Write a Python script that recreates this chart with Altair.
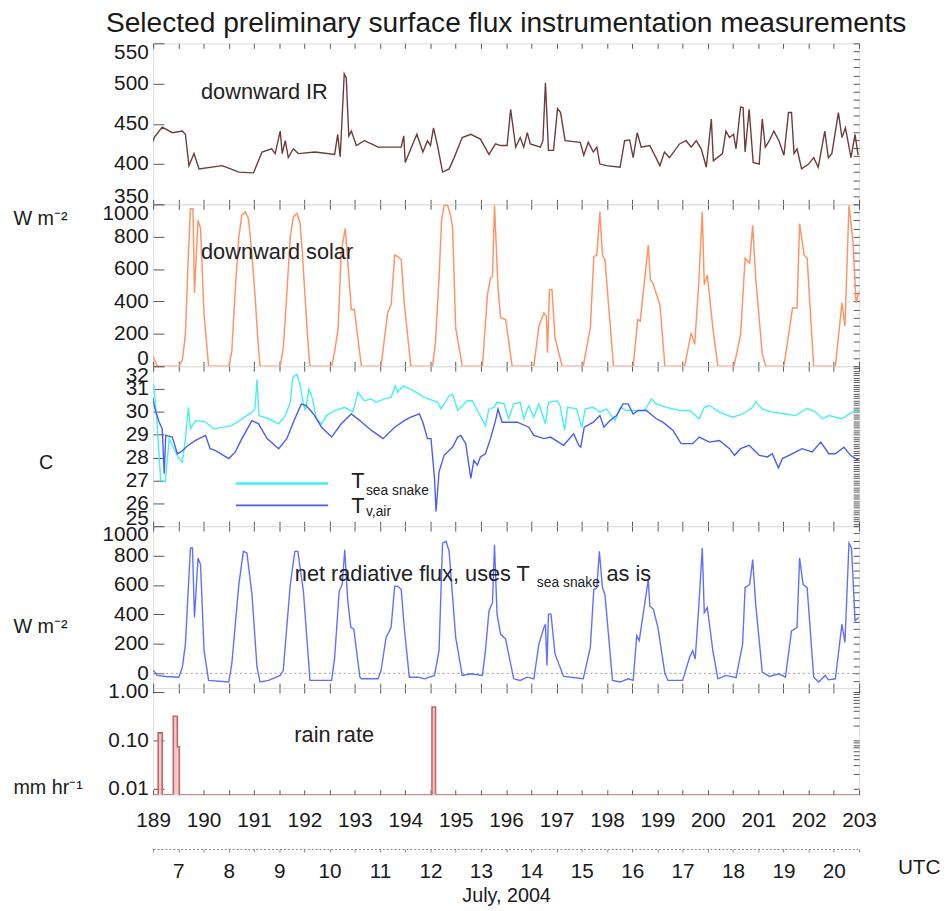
import altair as alt
import pandas as pd

FONT = "Liberation Sans"
DAY0, DAY1 = 189, 203

# ---------------- data ----------------
ir_day = [189.00, 189.02, 189.18, 189.38, 189.58, 189.64, 189.71, 189.81, 189.91, 190.37, 190.70, 190.99,
          191.16, 191.35, 191.42, 191.52, 191.56, 191.62, 191.68, 191.78, 191.88, 192.21, 192.60, 192.66,
          192.71, 192.79, 192.83, 192.88, 192.93, 193.03, 193.19, 193.33, 193.46, 193.92, 193.97, 194.00,
          194.11, 194.23, 194.35, 194.44, 194.50, 194.56, 194.64, 194.74, 194.87, 194.97, 195.13, 195.30,
          195.49, 195.66, 195.79, 195.89, 196.02, 196.09, 196.19, 196.28, 196.35, 196.42, 196.48, 196.68,
          196.73, 196.78, 196.84, 196.94, 197.02, 197.08, 197.17, 197.47, 197.54, 197.63, 197.73, 197.80,
          197.86, 197.99, 198.26, 198.35, 198.45, 198.52, 198.60, 198.68, 198.85, 199.05, 199.14, 199.24,
          199.44, 199.57, 199.67, 199.77, 199.87, 199.97, 200.07, 200.11, 200.29, 200.36, 200.43, 200.51,
          200.56, 200.65, 200.70, 200.74, 200.82, 200.90, 201.02, 201.08, 201.14, 201.22, 201.31, 201.41,
          201.51, 201.60, 201.66, 201.71, 201.77, 201.86, 202.00, 202.10, 202.19, 202.32, 202.39, 202.46,
          202.59, 202.66, 202.73, 202.84, 202.92, 202.98]
ir_val = [428, 433, 446, 439, 441, 437, 398, 413, 394, 398, 390, 389,
          415, 419, 413, 441, 413, 429, 408, 419, 413, 415, 412, 437,
          409, 512, 507, 435, 441, 423, 429, 425, 421, 421, 435, 402,
          419, 437, 415, 429, 423, 445, 423, 390, 394, 408, 433, 437,
          431, 412, 425, 423, 423, 468, 421, 433, 421, 439, 425, 421,
          429, 501, 417, 417, 469, 464, 429, 427, 411, 427, 415, 421,
          400, 398, 396, 429, 430, 408, 439, 421, 423, 398, 415, 408,
          425, 429, 421, 429, 419, 396, 456, 404, 413, 441, 433, 437,
          419, 471, 470, 415, 468, 402, 400, 456, 421, 429, 441, 429,
          411, 464, 464, 413, 419, 394, 400, 408, 396, 441, 408, 413,
          464, 433, 445, 408, 437, 411]

sw_day = [189.00, 189.08, 189.51, 189.58, 189.64, 189.70, 189.74, 189.79, 189.82, 189.89, 189.94, 190.01,
          190.10, 190.50, 190.56, 190.63, 190.70, 190.76, 190.83, 190.89, 190.95, 191.02, 191.08, 191.12,
          191.52, 191.58, 191.65, 191.72, 191.78, 191.85, 191.91, 191.96, 192.01, 192.07, 192.11,
          192.54, 192.60, 192.67, 192.73, 192.81, 192.88, 192.93, 192.99, 193.13,
          193.52, 193.65, 193.72, 193.79, 193.85, 193.92, 193.98, 194.11,
          194.54, 194.60, 194.67, 194.72, 194.77, 194.84, 194.90, 194.94, 195.00, 195.13,
          195.53, 195.63, 195.69, 195.73, 195.77, 195.84, 195.89, 195.99, 196.12,
          196.55, 196.65, 196.75, 196.80, 196.82, 196.86, 196.91, 196.97, 197.11,
          197.53, 197.67, 197.74, 197.80, 197.86, 197.91, 197.96, 198.13,
          198.52, 198.61, 198.66, 198.82, 198.86, 198.91, 199.05, 199.15,
          199.54, 199.67, 199.74, 199.82, 199.89, 199.93, 199.99, 200.10, 200.20,
          200.52, 200.65, 200.74, 200.83, 200.89, 200.95, 201.08, 201.15,
          201.51, 201.68, 201.77, 201.82, 201.91, 201.97, 202.10,
          202.53, 202.66, 202.72, 202.80, 202.88, 202.94, 203.00]
sw_val = [60, 0, 0, 40, 196, 700, 973, 973, 452, 902, 851, 319,
          0, 0, 90, 480, 800, 933, 953, 912, 720, 442, 150, 0,
          0, 110, 442, 800, 922, 943, 891, 700, 442, 150, 0,
          0, 90, 237, 707, 851, 564, 350, 350, 0,
          0, 329, 380, 687, 677, 656, 391, 0,
          0, 150, 544, 900, 994, 994, 930, 851, 237, 0,
          0, 442, 544, 554, 994, 480, 299, 288, 0,
          0, 247, 329, 309, 84, 472, 472, 176, 0,
          0, 237, 677, 687, 953, 687, 656, 0,
          0, 288, 278, 748, 534, 513, 380, 0,
          0, 206, 135, 513, 953, 503, 564, 237, 0,
          0, 196, 666, 636, 871, 544, 74, 0,
          0, 360, 360, 881, 687, 666, 0,
          0, 391, 247, 994, 769, 391, 462]

ts_day = [189.00, 189.02, 189.08, 189.15, 189.24, 189.32, 189.41, 189.51, 189.58, 189.64, 189.70, 189.74,
          189.84, 190.04, 190.20, 190.56, 190.96, 191.02, 191.06, 191.10, 191.29, 191.49, 191.62, 191.72,
          191.77, 191.85, 191.91, 191.98, 192.02, 192.09, 192.16, 192.24, 192.34, 192.44, 192.60, 192.80,
          192.96, 193.06, 193.19, 193.33, 193.42, 193.59, 193.72, 193.80, 193.85, 193.95, 194.11, 194.38,
          194.64, 194.71, 194.87, 194.94, 195.04, 195.23, 195.33, 195.43, 195.59, 195.66, 195.76, 195.82,
          195.96, 196.05, 196.15, 196.28, 196.35, 196.45, 196.55, 196.65, 196.78, 196.84, 197.01, 197.07,
          197.16, 197.22, 197.40, 197.50, 197.57, 197.73, 197.86, 197.99, 198.16, 198.26, 198.39, 198.59,
          198.75, 198.88, 198.98, 199.18, 199.44, 199.64, 199.83, 199.93, 200.03, 200.23, 200.49, 200.69,
          200.89, 200.95, 201.08, 201.28, 201.54, 201.74, 201.97, 202.14, 202.27, 202.40, 202.66, 202.86,
          202.99]
ts_val = [31.20, 31.07, 29.40, 27.01, 26.94, 28.83, 28.39, 27.96, 27.81, 28.83, 30.20, 29.26,
          29.62, 29.55, 29.26, 29.40, 29.99, 30.13, 31.43, 29.84, 29.70, 29.48, 29.84, 30.42,
          31.51, 31.65, 31.22, 30.35, 30.06, 31.00, 30.57, 29.70, 29.48, 29.84, 30.06, 30.20,
          29.99, 30.86, 30.49, 30.57, 30.42, 30.57, 30.64, 31.14, 30.86, 31.14, 31.00, 30.64,
          30.42, 30.13, 30.71, 30.78, 30.06, 30.49, 30.49, 30.06, 29.40, 30.13, 30.20, 30.42,
          30.35, 29.70, 30.35, 30.42, 29.70, 30.28, 29.77, 30.35, 29.48, 30.42, 30.49, 30.28,
          29.19, 30.20, 30.13, 29.33, 30.13, 30.20, 29.99, 30.13, 29.62, 30.20, 30.06, 30.06,
          30.06, 30.57, 30.35, 30.20, 30.06, 30.06, 29.70, 30.20, 30.28, 29.99, 29.77, 29.91,
          30.20, 30.45, 30.13, 29.99, 29.91, 29.84, 30.16, 29.99, 29.70, 29.84, 29.70, 29.99,
          30.01]

ta_day = [189.00, 189.02, 189.12, 189.18, 189.22, 189.25, 189.38, 189.48, 189.55, 189.68, 189.84, 190.04,
          190.13, 190.23, 190.50, 190.63, 190.76, 190.96, 191.09, 191.26, 191.49, 191.65, 191.81, 191.94,
          192.04, 192.18, 192.34, 192.54, 192.73, 192.93, 193.10, 193.33, 193.56, 193.79, 193.98, 194.11,
          194.28, 194.35, 194.44, 194.51, 194.58, 194.61, 194.67, 194.77, 194.94, 195.04, 195.10, 195.20,
          195.30, 195.36, 195.43, 195.49, 195.59, 195.69, 195.79, 195.84, 195.92, 196.22, 196.45, 196.55,
          196.75, 196.88, 197.14, 197.34, 197.44, 197.48, 197.55, 197.73, 197.86, 197.94, 198.06, 198.19,
          198.32, 198.42, 198.52, 198.62, 198.78, 198.98, 199.11, 199.31, 199.47, 199.70, 199.83, 200.03,
          200.23, 200.43, 200.53, 200.65, 200.82, 201.02, 201.18, 201.28, 201.40, 201.48, 201.68, 201.87,
          202.07, 202.24, 202.40, 202.53, 202.70, 202.83, 202.99]
ta_val = [30.60, 30.27, 29.55, 29.26, 27.30, 28.97, 28.90, 28.17, 28.25, 28.51, 28.75, 28.97,
          28.39, 28.32, 27.96, 28.25, 28.83, 29.62, 29.48, 28.83, 28.39, 28.83, 29.70, 30.35,
          30.27, 29.91, 29.33, 28.90, 29.48, 29.91, 29.62, 29.19, 28.83, 29.33, 29.62, 29.77,
          29.91, 29.55, 28.83, 28.83, 27.09, 25.64, 27.38, 28.10, 28.46, 28.90, 28.97, 28.61,
          27.09, 27.88, 27.67, 28.03, 28.17, 28.83, 29.62, 30.13, 29.55, 29.55, 29.33, 28.97,
          28.83, 28.90, 28.54, 29.04, 28.54, 28.46, 29.33, 29.55, 29.84, 29.33, 29.62, 29.84,
          30.35, 30.35, 29.91, 30.06, 30.06, 29.70, 29.55, 29.19, 28.61, 28.61, 28.90, 28.68,
          28.75, 28.39, 28.10, 28.39, 28.54, 28.10, 28.03, 28.17, 27.55, 27.96, 28.17, 28.39,
          28.25, 28.68, 28.17, 28.17, 28.46, 28.10, 27.88]

net_day = [189.00, 189.02, 189.08, 189.25, 189.51, 189.58, 189.64, 189.74, 189.78, 189.82, 189.89, 189.94,
           190.01, 190.10, 190.50, 190.56, 190.70, 190.79, 190.86, 190.96, 191.06, 191.12, 191.29, 191.52,
           191.58, 191.72, 191.81, 191.87, 191.98, 192.11, 192.54, 192.60, 192.69, 192.75, 192.80, 192.86,
           192.92, 192.98, 193.10, 193.13, 193.46, 193.52, 193.62, 193.72, 193.79, 193.85, 193.92, 193.98,
           194.08, 194.25, 194.38, 194.58, 194.67, 194.74, 194.81, 194.87, 195.00, 195.13, 195.30, 195.53,
           195.59, 195.66, 195.73, 195.77, 195.82, 195.89, 195.99, 196.15, 196.28, 196.42, 196.55, 196.65,
           196.75, 196.78, 196.81, 196.84, 196.89, 196.97, 197.14, 197.53, 197.67, 197.74, 197.80, 197.85,
           197.91, 197.96, 198.11, 198.26, 198.42, 198.52, 198.59, 198.64, 198.82, 198.85, 198.92, 199.01,
           199.15, 199.21, 199.50, 199.64, 199.70, 199.75, 199.82, 199.89, 199.93, 199.99, 200.10, 200.20,
           200.36, 200.56, 200.69, 200.74, 200.83, 200.89, 200.95, 201.08, 201.22, 201.41, 201.54, 201.66,
           201.77, 201.82, 201.89, 201.97, 202.10, 202.20, 202.33, 202.39, 202.53, 202.66, 202.72, 202.80,
           202.85, 202.92, 202.99]
net_val = [20, 15, -14, -21, -26, 42, 199, 852, 852, 379, 784, 739,
           154, -48, -59, 64, 604, 829, 818, 536, 42, -59, -48, -14,
           19, 604, 829, 829, 559, -48, -48, 109, 559, 604, 840, 492,
           312, 300, -26, -37, -37, 19, 244, 312, 593, 593, 570, 312,
           -26, -26, -37, -14, 154, 885, 897, 829, 244, -14, -3, -14,
           154, 424, 480, 874, 402, 267, 233, -37, -48, -26, -37, 199,
           312, 334, 53, 402, 402, 132, -21, -37, 177, 570, 582, 829,
           582, 536, -48, -59, -37, -48, 256, 222, 638, 458, 435, 312,
           -3, -48, -48, 109, 154, 98, 447, 852, 413, 447, 154, -37,
           -14, -30, 199, 582, 604, 773, 469, 8, -21, -3, -26, 289,
           312, 784, 604, 582, -26, -59, -14, -44, -37, 334, 210, 885,
           852, 357, 379]

rain_day = [189.00, 189.10, 189.18, 189.40, 189.48, 189.52, 194.53, 194.60, 203.00]
rain_val = [0.0, 0.142, 0.0, 0.314, 0.073, 0.0, 0.49, 0.0, 0.0]

ir_ticks = [350, 400, 450, 500, 550]
sw_ticks = [0, 200, 400, 600, 800, 1000]
t_ticks = [25, 26, 27, 28, 29, 30, 31, 32]
net_ticks = [0, 200, 400, 600, 800, 1000]
rain_ticks = [0.01, 0.1, 1.0]

# ---------------- helpers ----------------
HALF_DAYS = [DAY0 + 0.5 * i for i in range(29)]
RAIN_BASE = 0.0074
INK = "#1a1a1a"
TICK = "#555555"
ANN = 22


def xs():
    return alt.Scale(domain=[DAY0, DAY1], nice=False, zero=False)


def x_bottom(labels=False):
    kw = dict(orient="bottom", values=HALF_DAYS, offset=-5, tickSize=5, domain=False, grid=False,
              tickColor=TICK, title=None)
    if labels:
        kw.update(labels=True, labelExpr="datum.value % 1 == 0 ? format(datum.value, 'd') : ''",
                  labelFlush=False, labelOverlap=False, labelFontSize=21, labelFont=FONT,
                  labelColor=INK, labelPadding=15)
    else:
        kw.update(labels=False)
    return alt.Axis(**kw)


def x_top():
    return alt.Axis(orient="top", values=HALF_DAYS, offset=-5, tickSize=5, domain=False, labels=False,
                    grid=False, tickColor=TICK, title=None)


def y_left(major, fmt, title=None, ty=0, tx=-153):
    kw = dict(orient="left", values=major, offset=-11, tickSize=11, domain=False, grid=False,
              tickColor=TICK, format=fmt, labelFontSize=21, labelFont=FONT, labelColor=INK,
              labelPadding=5, labelOverlap=False, labelFlush=True, labelFlushOffset=2)
    if title:
        kw.update(title=title, titleAngle=0, titleX=tx, titleY=ty, titleAlign="left",
                  titleBaseline="middle", titleFontSize=20, titleFont=FONT, titleFontWeight="normal",
                  titleColor=INK)
    else:
        kw.update(title=None)
    return alt.Axis(**kw)


def y_right(minor):
    return alt.Axis(orient="right", values=minor, offset=-6, tickSize=6, domain=False, labels=False,
                    grid=False, tickColor=TICK, title=None)


def frame(days, vals):
    return pd.DataFrame({"day": days, "v": vals})


def axes_layer(df, yscale, minor):
    return alt.Chart(df).mark_line(opacity=0).encode(
        x=alt.X("day:Q", scale=xs(), axis=x_top()),
        y=alt.Y("v:Q", scale=yscale, axis=y_right(minor)))


ONE = pd.DataFrame({"a": [0]})


def label(text, day, val, yscale, size=ANN, color="#222222"):
    return alt.Chart(ONE).mark_text(text=text, align="left", baseline="middle", fontSize=size,
                                    font=FONT, color=color).encode(
        x=alt.XDatum(day, scale=xs(), axis=None),
        y=alt.YDatum(val, scale=yscale, axis=None))


W = 715

# ---------------- panel 1: downward IR ----------------
ir_scale = alt.Scale(domain=[350, 550], nice=False, zero=False)
ir_df = frame(ir_day, ir_val)
p_ir = alt.layer(
    alt.Chart(ir_df).mark_line(color="#6f3a3a", strokeWidth=1.4, clip=True).encode(
        x=alt.X("day:Q", scale=xs(), axis=x_bottom()),
        y=alt.Y("v:Q", scale=ir_scale, axis=y_left(ir_ticks, "d"))),
    axes_layer(ir_df, ir_scale, list(range(350, 551, 10))),
    label("downward IR", 189.95, 490, ir_scale),
).resolve_axis(x="independent", y="independent").properties(width=W, height=163)

# ---------------- panel 2: downward solar ----------------
sw_scale = alt.Scale(domain=[0, 1000], nice=False, zero=False)
sw_df = frame(sw_day, sw_val)
p_sw = alt.layer(
    alt.Chart(sw_df).mark_line(color="#ff9466", strokeWidth=1.5, clip=True).encode(
        x=alt.X("day:Q", scale=xs(), axis=x_bottom()),
        y=alt.Y("v:Q", scale=sw_scale, axis=y_left(sw_ticks, "d", "W m\u207b\u00b2", 14))),
    axes_layer(sw_df, sw_scale, list(range(0, 1001, 50))),
    label("downward solar", 189.95, 707, sw_scale),
).resolve_axis(x="independent", y="independent").properties(width=W, height=164)

# ---------------- panel 3: temperatures ----------------
t_scale = alt.Scale(domain=[25, 32], nice=False, zero=False)
ts_df = frame(ts_day, ts_val)
ta_df = frame(ta_day, ta_val)
t_minor = [round(25 + 0.1 * i, 1) for i in range(71)]
p_t = alt.layer(
    alt.Chart(ts_df).mark_line(color="#45f0ee", strokeWidth=1.4, clip=True).encode(
        x=alt.X("day:Q", scale=xs(), axis=x_bottom()),
        y=alt.Y("v:Q", scale=t_scale, axis=y_left(t_ticks, "d", "C", 98, -127))),
    alt.Chart(ta_df).mark_line(color="#4a5cf0", strokeWidth=1.4, clip=True).encode(
        x=alt.X("day:Q", scale=xs(), axis=None),
        y=alt.Y("v:Q", scale=t_scale, axis=None)),
    axes_layer(ts_df, t_scale, t_minor),
    alt.Chart(ONE).mark_rule(color="#45f0ee", strokeWidth=2.5).encode(
        x=alt.XDatum(190.64, scale=xs(), axis=None), x2=alt.X2Datum(192.47),
        y=alt.YDatum(26.87, scale=t_scale, axis=None)),
    alt.Chart(ONE).mark_rule(color="#4a5cf0", strokeWidth=2).encode(
        x=alt.XDatum(190.64, scale=xs(), axis=None), x2=alt.X2Datum(192.47),
        y=alt.YDatum(25.91, scale=t_scale, axis=None)),
    label("T", 192.93, 26.96, t_scale, size=22),
    label("sea snake", 193.22, 26.53, t_scale, size=14),
    label("T", 192.93, 25.87, t_scale, size=22),
    label("v,air", 193.22, 25.62, t_scale, size=14),
).resolve_axis(x="independent", y="independent").properties(width=W, height=162)

# ---------------- panel 4: net radiative flux ----------------
net_scale = alt.Scale(domain=[-100, 1000], nice=False, zero=False)
net_df = frame(net_day, net_val)
p_net = alt.layer(
    alt.Chart(ONE).mark_rule(color="#999999", strokeDash=[2, 3], strokeWidth=1).encode(
        y=alt.YDatum(0, scale=net_scale, axis=None)),
    alt.Chart(net_df).mark_line(color="#5f6fff", strokeWidth=1.4, clip=True).encode(
        x=alt.X("day:Q", scale=xs(), axis=x_bottom()),
        y=alt.Y("v:Q", scale=net_scale, axis=y_left(net_ticks, "d", "W m\u207b\u00b2", 102))),
    axes_layer(net_df, net_scale, list(range(-100, 1001, 50))),
    label("net radiative flux, uses T", 191.81, 671, net_scale),
    label("sea snake", 196.61, 615, net_scale, size=14),
    label("as is", 197.99, 671, net_scale),
).resolve_axis(x="independent", y="independent").properties(width=W, height=164)

# ---------------- panel 5: rain rate ----------------
rain_scale = alt.Scale(type="log", domain=[RAIN_BASE, 1.21], nice=False)
rain_df = frame(rain_day, rain_val)
rain_df["v"] = rain_df["v"].clip(lower=RAIN_BASE)
rain_df["base"] = RAIN_BASE
rain_minor = sorted(set([round(m * 10 ** e, 4) for e in (-2, -1) for m in range(1, 10)] + [1.0]))
p_rain = alt.layer(
    alt.Chart(rain_df).mark_area(interpolate="step-after", color="#ecbcbc", opacity=0.8, clip=True).encode(
        x=alt.X("day:Q", scale=xs(), axis=None),
        y=alt.Y("v:Q", scale=rain_scale, axis=None),
        y2=alt.Y2("base:Q")),
    alt.Chart(rain_df).mark_line(interpolate="step-after", color="#c86464", strokeWidth=1.6, clip=True).encode(
        x=alt.X("day:Q", scale=xs(), axis=x_bottom(labels=True)),
        y=alt.Y("v:Q", scale=rain_scale,
                axis=y_left(rain_ticks, ".2f", "mm hr\u207b\u00b9", 101))),
    axes_layer(rain_df, rain_scale, rain_minor),
    label("rain rate", 191.80, 0.126, rain_scale),
).resolve_axis(x="independent", y="independent").properties(width=W, height=108)

# ---------------- date axis (July 2004) ----------------
date_df = pd.DataFrame({"day": [DAY0, DAY1], "v": [0, 0]})
date_axis = alt.Axis(orient="bottom", values=HALF_DAYS, domain=True, domainDash=[2, 2],
                     domainColor="#888888", tickColor="#888888", tickSize=3, grid=False,
                     labelExpr="datum.value % 1 == 0.5 ? format(datum.value - 182.5, 'd') : ''",
                     labelFlush=False, labelOverlap=False, labelFontSize=21, labelFont=FONT,
                     labelColor=INK, labelPadding=9,
                     title="July, 2004", titleFontSize=20, titleFont=FONT, titleFontWeight="normal",
                     titleColor=INK, titlePadding=4)
p_date = alt.layer(
    alt.Chart(date_df).mark_line(opacity=0).encode(
        x=alt.X("day:Q", scale=xs(), axis=date_axis),
        y=alt.Y("v:Q", axis=None)),
    alt.Chart(ONE).mark_text(text="UTC", align="left", baseline="middle", fontSize=21, font=FONT,
                             color=INK).encode(
        x=alt.XDatum(203.77, scale=xs(), axis=None),
        y=alt.value(74)),
).resolve_axis(x="independent", y="independent").properties(
    width=W, height=55, view=alt.ViewBackground(stroke=None))

chart = alt.vconcat(
    p_ir, p_sw, p_t, p_net, p_rain, p_date, spacing=0, bounds="flush"
).resolve_scale(x="independent", y="independent").properties(
    title=alt.TitleParams("Selected preliminary surface flux instrumentation measurements",
                          fontSize=28.5, font=FONT, fontWeight="normal", color=INK,
                          anchor="middle", frame="group", offset=3),
    padding={"left": 4, "top": -4, "right": 2, "bottom": 2},
).configure_view(stroke="#6a6a6a", strokeWidth=1.3).configure(font=FONT, background="white")

chart.save("out.html", embed_options={"renderer": "svg", "actions": False})
